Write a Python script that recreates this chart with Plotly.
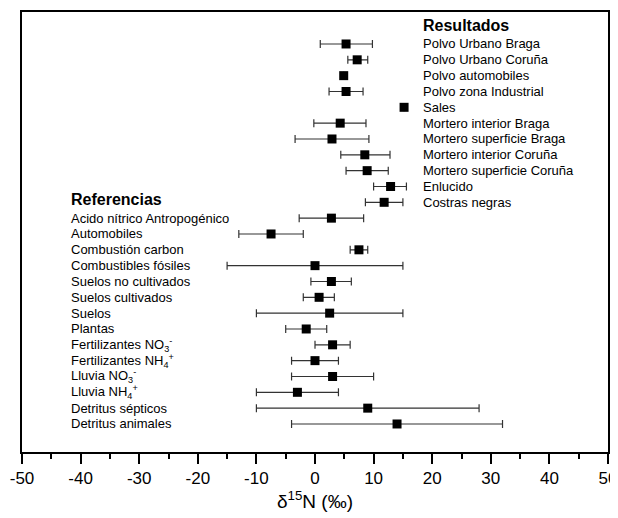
import plotly.graph_objects as go

res_labels = ["Polvo Urbano Braga", "Polvo Urbano Coruña", "Polvo automobiles",
              "Polvo zona Industrial", "Sales", "Mortero interior Braga",
              "Mortero superficie Braga", "Mortero interior Coruña",
              "Mortero superficie Coruña", "Enlucido", "Costras negras"]
res_center = [5.3, 7.2, 4.9, 5.3, 15.2, 4.3, 2.9, 8.5, 8.9, 12.9, 11.8]
res_low = [0.9, 5.6, 4.9, 2.4, 15.2, -0.2, -3.4, 4.4, 5.3, 10.0, 8.6]
res_high = [9.8, 9.0, 4.9, 8.2, 15.2, 8.7, 9.2, 12.8, 12.5, 15.6, 15.0]

ref_labels = ["Acido nítrico Antropogénico", "Automobiles", "Combustión carbon",
              "Combustibles fósiles", "Suelos no cultivados", "Suelos cultivados",
              "Suelos", "Plantas", "Fertilizantes NO<sub>3</sub><sup>-</sup>",
              "Fertilizantes NH<sub>4</sub><sup>+</sup>", "Lluvia NO<sub>3</sub><sup>-</sup>",
              "Lluvia NH<sub>4</sub><sup>+</sup>", "Detritus sépticos", "Detritus animales"]
ref_center = [2.8, -7.5, 7.5, 0.0, 2.8, 0.7, 2.5, -1.5, 3.0, 0.0, 3.0, -3.0, 9.0, 14.0]
ref_low = [-2.7, -13.0, 6.0, -15.0, -0.7, -2.0, -10.0, -5.0, 0.0, -4.0, -4.0, -10.0, -10.0, -4.0]
ref_high = [8.3, -2.0, 9.0, 15.0, 6.2, 3.3, 15.0, 2.0, 6.0, 4.0, 10.0, 4.0, 28.0, 32.0]

tick_vals = [-50, -40, -30, -20, -10, 0, 10, 20, 30, 40, 50]

centers = res_center + ref_center
lows = res_low + ref_low
highs = res_high + ref_high
rows = list(range(len(centers)))

FAM = "Liberation Sans, Arial, sans-serif"

fig = go.Figure()
fig.add_trace(go.Scatter(
    x=centers, y=rows, mode="markers",
    marker=dict(symbol="square", size=9, color="black"),
    error_x=dict(type="data", symmetric=False,
                 array=[h - c for h, c in zip(highs, centers)],
                 arrayminus=[c - l for c, l in zip(centers, lows)],
                 color="#333333", thickness=1.2, width=4),
    showlegend=False, hoverinfo="skip", cliponaxis=False))

font_lbl = dict(family=FAM, size=13, color="black")
ann = []
ann.append(dict(x=18.1, y=-1.15, text="<b>Resultados</b>", showarrow=False,
                xanchor="left", yanchor="middle",
                font=dict(family=FAM, size=16, color="black")))
for i, t in enumerate(res_labels):
    ann.append(dict(x=18.1, y=i, text=t, showarrow=False, xanchor="left",
                    yanchor="middle", font=font_lbl))
ann.append(dict(x=-42.0, y=9.85, text="<b>Referencias</b>", showarrow=False,
                xanchor="left", yanchor="middle",
                font=dict(family=FAM, size=16, color="black")))
for j, t in enumerate(ref_labels):
    ann.append(dict(x=-42.0, y=len(res_labels) + j, text=t, showarrow=False,
                    xanchor="left", yanchor="middle", font=font_lbl))

fig.update_layout(
    width=610, height=510,
    margin=dict(l=14, r=10, t=4, b=66, autoexpand=False),
    paper_bgcolor="white", plot_bgcolor="white",
    annotations=ann,
    xaxis=dict(range=[-50, 50], tickvals=tick_vals,
               ticktext=[str(v) for v in tick_vals], automargin=False,
               ticks="outside", ticklen=10, tickwidth=1.5, tickcolor="black",
               minor=dict(dtick=5, ticks="outside", ticklen=5, tickwidth=1.5, tickcolor="black"),
               showline=True, linewidth=2, linecolor="black", mirror=True,
               showgrid=False, zeroline=False,
               tickfont=dict(family=FAM, size=17, color="black"),
               title=dict(text="δ<sup>15</sup>N (‰)", standoff=1,
                          font=dict(family=FAM, size=19, color="black"))),
    yaxis=dict(range=[25.77, -2.02], showticklabels=False, ticks="", automargin=False,
               showline=True, linewidth=2, linecolor="black", mirror=True,
               showgrid=False, zeroline=False),
)

fig.write_html("out.html")
